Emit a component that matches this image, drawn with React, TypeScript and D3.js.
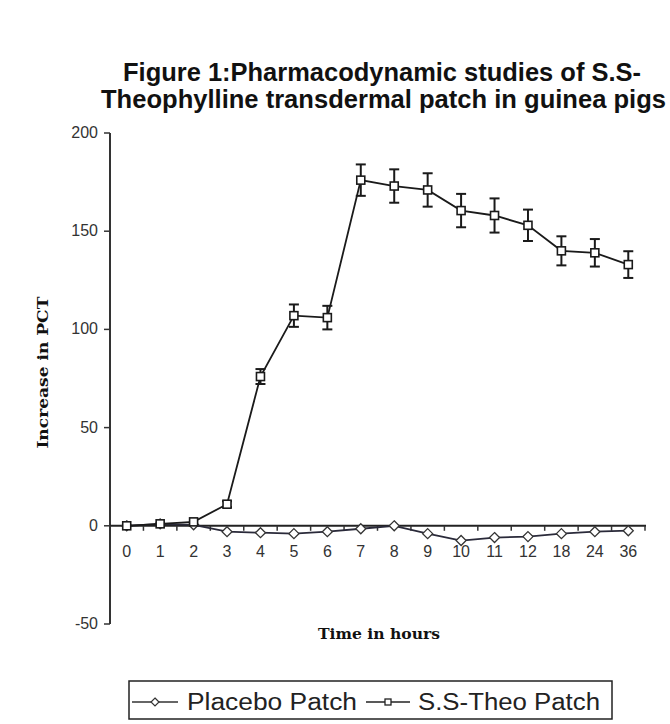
import React from "react";
import * as d3 from "d3";

const categories = ["0", "1", "2", "3", "4", "5", "6", "7", "8", "9", "10", "11", "12", "18", "24", "36"];
const placebo = [0, 1, 0.5, -3, -3.5, -4, -3, -1.5, 0, -4, -7.5, -6, -5.5, -4, -3, -2.5];
const ssTheo = [0, 1, 2, 11, 76, 107, 106, 176, 173, 171, 160.5, 158, 153, 140, 139, 133];
const ssTheoErr = [0, 0, 0, 1.5, 3.8, 5.7, 6, 8, 8.5, 8.5, 8.5, 8.7, 8, 7.4, 7, 6.8];
const yTicks = [-50, 0, 50, 100, 150, 200];
const titleLines = ["Figure 1:Pharmacodynamic studies of S.S-", "Theophylline transdermal patch in guinea pigs"];
const legendLabels = ["Placebo Patch", "S.S-Theo Patch"];

export default function App() {
  const x = d3.scaleBand<string>().domain(categories).range([110, 645]);
  const y = d3.scaleLinear().domain([-50, 200]).range([624, 133]);
  const cx = (i: number) => (x(categories[i]) as number) + x.bandwidth() / 2;
  const line = d3
    .line<number>()
    .x((_, i) => cx(i))
    .y((d) => y(d));
  const diamond = (px: number, py: number, r: number) =>
    `M${px},${py - r}L${px + r},${py}L${px},${py + r}L${px - r},${py}Z`;
  const ink = "#1a1a1a";

  return (
    <svg
      width={670}
      height={724}
      style={{ position: "absolute", left: 0, top: 0, background: "#fff" }}
    >
      {/* title */}
      <g fontFamily="'Liberation Sans', Arial, sans-serif" fontWeight="bold" fontSize={25} fill="#111">
        <text x={123} y={81} textLength={518} lengthAdjust="spacingAndGlyphs">{titleLines[0]}</text>
        <text x={101} y={108} textLength={565} lengthAdjust="spacingAndGlyphs">{titleLines[1]}</text>
      </g>

      {/* y axis */}
      <line x1={110} x2={110} y1={y(200)} y2={y(-50)} stroke="#333" strokeWidth={2} />
      {yTicks.map((t) => (
        <g key={t}>
          <line x1={104} x2={110} y1={y(t)} y2={y(t)} stroke="#333" strokeWidth={1.5} />
          <text x={98} y={y(t) + 5} textAnchor="end" fontFamily="Arial, 'Liberation Sans', sans-serif" fontSize={16} fill="#333">
            {t}
          </text>
        </g>
      ))}

      {/* x axis */}
      <line x1={110} x2={646} y1={y(0)} y2={y(0)} stroke="#222" strokeWidth={2} />
      {categories.map((c, i) => (
        <g key={c}>
          <line x1={x(c) as number} x2={x(c) as number} y1={y(0)} y2={y(0) + 5} stroke="#333" strokeWidth={1.5} />
          <text x={cx(i)} y={557} textAnchor="middle" fontFamily="Arial, 'Liberation Sans', sans-serif" fontSize={16} fill="#333">
            {c}
          </text>
        </g>
      ))}
      <line x1={645} x2={645} y1={y(0)} y2={y(0) + 5} stroke="#333" strokeWidth={1.5} />

      {/* axis titles */}
      <text
        transform={`translate(48, ${y(78)}) rotate(-90)`}
        textAnchor="middle"
        fontFamily="'DejaVu Serif', 'Liberation Serif', serif"
        fontWeight="bold"
        fontSize={15}
        fill="#111"
        textLength={152}
        lengthAdjust="spacingAndGlyphs"
      >
        Increase in PCT
      </text>
      <text x={379} y={639} textAnchor="middle" fontFamily="'DejaVu Serif', 'Liberation Serif', serif" fontWeight="bold" fontSize={15} fill="#111" textLength={122} lengthAdjust="spacingAndGlyphs">
        Time in hours
      </text>

      {/* placebo series */}
      <path d={line(placebo) || ""} fill="none" stroke="#2a2a3a" strokeWidth={1.8} />
      {placebo.map((v, i) => (
        <path key={i} d={diamond(cx(i), y(v), 5)} fill="#fff" stroke="#333" strokeWidth={1.3} />
      ))}

      {/* SS-Theo series */}
      <path d={line(ssTheo) || ""} fill="none" stroke={ink} strokeWidth={1.8} />
      {ssTheo.map((v, i) =>
        ssTheoErr[i] > 0 ? (
          <g key={"e" + i} stroke={ink} strokeWidth={2}>
            <line x1={cx(i)} x2={cx(i)} y1={y(v + ssTheoErr[i])} y2={y(v - ssTheoErr[i])} />
            <line x1={cx(i) - 5} x2={cx(i) + 5} y1={y(v + ssTheoErr[i])} y2={y(v + ssTheoErr[i])} />
            <line x1={cx(i) - 5} x2={cx(i) + 5} y1={y(v - ssTheoErr[i])} y2={y(v - ssTheoErr[i])} />
          </g>
        ) : null
      )}
      {ssTheo.map((v, i) => (
        <rect key={i} x={cx(i) - 4} y={y(v) - 4} width={8} height={8} fill="#fff" stroke={ink} strokeWidth={1.6} />
      ))}

      {/* legend */}
      <rect x={129} y={681} width={483} height={38} fill="#fff" stroke="#222" strokeWidth={1.5} />
      <line x1={132} x2={178} y1={702} y2={702} stroke="#333" strokeWidth={1.5} />
      <path d={diamond(155, 702, 4)} fill="#fff" stroke="#333" strokeWidth={1.2} />
      <text x={187} y={710} fontFamily="Arial, 'Liberation Sans', sans-serif" fontSize={23} fill="#222" textLength={170} lengthAdjust="spacingAndGlyphs">
        {legendLabels[0]}
      </text>
      <line x1={366} x2={410} y1={702} y2={702} stroke="#222" strokeWidth={1.5} />
      <rect x={385} y={699} width={6} height={6} fill="#fff" stroke="#222" strokeWidth={1.3} />
      <text x={418} y={710} fontFamily="Arial, 'Liberation Sans', sans-serif" fontSize={23} fill="#222" textLength={182} lengthAdjust="spacingAndGlyphs">
        {legendLabels[1]}
      </text>
    </svg>
  );
}
